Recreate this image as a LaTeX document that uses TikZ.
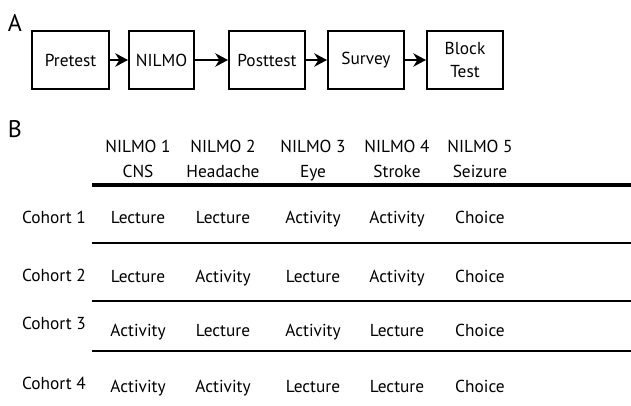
\documentclass[tikz,border=0pt]{standalone}
\usepackage{fontspec}
\setmainfont{PT Sans}
\usetikzlibrary{arrows.meta}
\begin{document}
\begin{tikzpicture}[x=0.75pt,y=-0.75pt,
  txt/.style={font=\fontsize{13}{18.5}\selectfont, inner sep=0pt, align=center, anchor=base},
  stepbox/.style={draw, line width=1.5pt, minimum height=43.5pt, inner sep=0pt,
    font=\fontsize{13}{17}\selectfont, align=center},
  arr/.style={line width=1.5pt, -{Stealth[length=9.5pt,width=10pt,inset=3pt]}},
  panel/.style={font=\fontsize{18}{20}\selectfont, inner sep=0pt},
  thickrule/.style={line width=2.6pt},
  thinrule/.style={line width=1.3pt}
]
\useasboundingbox (0,0) rectangle (631,406);
% Panel A
\node[panel] (A) at (15,23) {A};
\node[stepbox, minimum width=57.75pt] (b1) at (70.5,60) {Pretest};
\node[stepbox, minimum width=48.75pt] (b2) at (161.5,60) {NILMO};
\node[stepbox, minimum width=57pt] (b3) at (267,60) {Posttest};
\node[stepbox, minimum width=57pt] (b4) at (366,60) {Survey};
\node[stepbox, minimum width=57pt] (b5) at (465,60) {Block\\Test};
\draw[arr] (b1) -- (b2);
\draw[arr] (b2) -- (b3);
\draw[arr] (b3) -- (b4);
\draw[arr] (b4) -- (b5);
% Panel B
\node[panel] (B) at (15,129) {B};
\node[txt] (h1) at (138,177) {NILMO 1\\CNS};
\node[txt] (h2) at (223,177) {NILMO 2\\Headache};
\node[txt] (h3) at (313,177) {NILMO 3\\Eye};
\node[txt] (h4) at (397,177) {NILMO 4\\Stroke};
\node[txt] (h5) at (480,177) {NILMO 5\\Seizure};
\coordinate (r0l) at (92,185); \coordinate (r0r) at (631,185);
\coordinate (r1l) at (92,243); \coordinate (r1r) at (631,243);
\coordinate (r2l) at (92,301); \coordinate (r2r) at (631,301);
\coordinate (r3l) at (92,351); \coordinate (r3r) at (631,351);
\draw[thickrule] (r0l) -- (r0r);
\draw[thinrule] (r1l) -- (r1r);
\draw[thinrule] (r2l) -- (r2r);
\draw[thinrule] (r3l) -- (r3r);
% Row labels
\node[txt, anchor=base east] (c1) at (86,223) {Cohort 1};
\node[txt, anchor=base east] (c2) at (86,281) {Cohort 2};
\node[txt, anchor=base east] (c3) at (86,329) {Cohort 3};
\node[txt, anchor=base east] (c4) at (86,389) {Cohort 4};
% Row 1
\node[txt] (e11) at (138,223) {Lecture};
\node[txt] (e12) at (223,223) {Lecture};
\node[txt] (e13) at (313,223) {Activity};
\node[txt] (e14) at (397,223) {Activity};
\node[txt] (e15) at (480,223) {Choice};
% Row 2
\node[txt] (e21) at (138,282) {Lecture};
\node[txt] (e22) at (223,282) {Activity};
\node[txt] (e23) at (313,282) {Lecture};
\node[txt] (e24) at (397,282) {Activity};
\node[txt] (e25) at (480,282) {Choice};
% Row 3
\node[txt] (e31) at (138,336) {Activity};
\node[txt] (e32) at (223,336) {Lecture};
\node[txt] (e33) at (313,336) {Activity};
\node[txt] (e34) at (397,336) {Lecture};
\node[txt] (e35) at (480,336) {Choice};
% Row 4
\node[txt] (e41) at (138,392) {Activity};
\node[txt] (e42) at (223,392) {Activity};
\node[txt] (e43) at (313,392) {Lecture};
\node[txt] (e44) at (397,392) {Lecture};
\node[txt] (e45) at (480,392) {Choice};
\end{tikzpicture}
\end{document}
